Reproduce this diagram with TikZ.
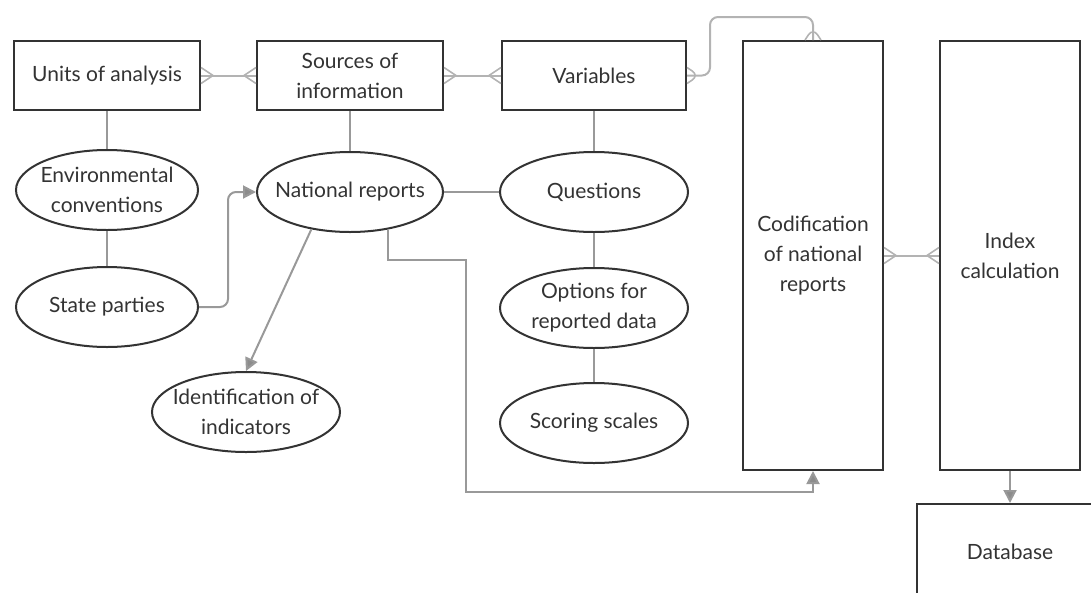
\documentclass[tikz,border=0pt]{standalone}
\usepackage{fontspec}
\setmainfont{Lato}
\usetikzlibrary{arrows.meta,decorations.markings,shapes.geometric}

\definecolor{edgedark}{HTML}{333333}
\definecolor{linegray}{HTML}{999999}
\definecolor{footgray}{HTML}{B3B3B3}
\definecolor{tipgray}{HTML}{8C8C8C}

\tikzset{
  entbox/.style={draw=edgedark, line width=2pt, fill=white, inner sep=0pt,
    minimum width=186pt, minimum height=69pt, align=center, text=edgedark},
  tallbox/.style={entbox, minimum width=140pt, minimum height=429pt},
  attr/.style={draw=edgedark, line width=2pt, ellipse, inner xsep=-16pt, inner ysep=-10pt,
    minimum width=182pt, minimum height=80pt, align=center, text=edgedark},
  link/.style={draw=linegray, line width=2pt},
  flow/.style={link, -{Triangle[length=13pt,width=13pt,fill=tipgray]}, rounded corners=8pt},
  crowfeet/.style={draw=footgray, line width=2pt, postaction={decorate, decoration={markings,
    mark=at position 0 with {\draw[footgray, line width=1.6pt] (0,8pt) -- (12pt,0) -- (0,-8pt);},
    mark=at position 1 with {\draw[footgray, line width=1.6pt] (0,8pt) -- (-12pt,0) -- (0,-8pt);}}}}
}

\begin{document}
\begin{tikzpicture}[x=1pt, y=-1pt, font=\fontsize{21}{30}\selectfont]
  \useasboundingbox (0,0) rectangle (1091,592);

  % entities on the top row
  \node[entbox] (units) at (107,75.5) {Units of analysis};
  \node[entbox] (sources) at (350,75.5) {Sources of\\information};
  \node[entbox, minimum width=184pt] (variables) at (594,75.5) {Variables};

  % tall boxes on the right
  \node[tallbox] (codif) at (813,255.5) {Codification\\of national\\reports};
  \node[tallbox] (index) at (1010,255.5) {Index\\calculation};
  \node[entbox, minimum height=96pt] (database) at (1010,552) {Database};

  % attributes
  \node[attr] (env) at (107,190) {Environmental\\conventions};
  \node[attr] (state) at (107,307) {State parties};
  \node[attr, minimum width=186pt] (natrep) at (350,192) {National reports};
  \node[attr, minimum width=188pt] (ident) at (246,412) {Identification of\\indicators};
  \node[attr, minimum width=188pt] (questions) at (594,192) {Questions};
  \node[attr, minimum width=188pt] (options) at (594,308) {Options for\\reported data};
  \node[attr, minimum width=188pt] (scoring) at (594,423) {Scoring scales};

  % many-to-many relations
  \draw[crowfeet] (units.east) -- (sources.west);
  \draw[crowfeet] (sources.east) -- (variables.west);
  \draw[crowfeet, rounded corners=8pt] (codif.north) |- (710,17) -- (710,75.5) -- (variables.east);
  \draw[crowfeet] (codif.east) -- (index.west);

  % plain links
  \draw[link] (units) -- (env);
  \draw[link] (env) -- (state);
  \draw[link] (sources) -- (natrep);
  \draw[link] (natrep) -- (questions);
  \draw[link] (variables) -- (questions);
  \draw[link] (questions) -- (options);
  \draw[link] (options) -- (scoring);

  % arrows
  \draw[flow] (state.east) -- (228,307) |- (natrep.west);
  \draw[flow, rounded corners=0pt] (natrep.224) -- (ident.north);
  \draw[flow, rounded corners=0pt] (natrep.-45) -- ++(0,30) -| (466,492) -| (codif.south);
  \draw[flow] (index.south) -- (database.north);
\end{tikzpicture}
\end{document}
